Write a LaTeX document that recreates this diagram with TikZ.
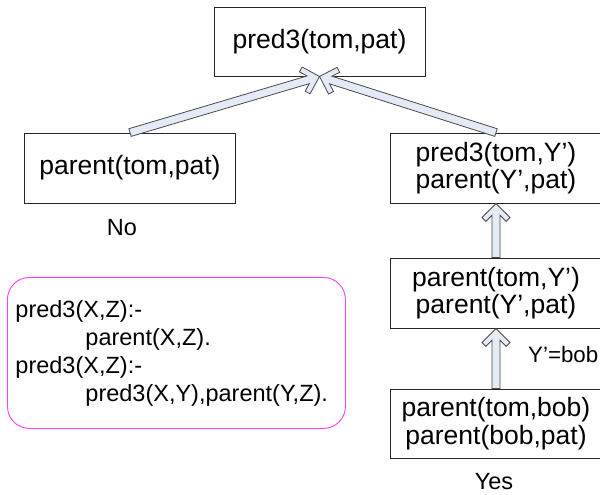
\documentclass[tikz,border=0pt]{standalone}
\usepackage{fontspec}
\setmainfont{Liberation Sans}
\usetikzlibrary{calc}

\definecolor{arrowfill}{HTML}{E4EAF6}
\definecolor{arrowline}{HTML}{4A4A4A}
\definecolor{rulepink}{HTML}{FF3CFF}

\tikzset{
  goal/.style={draw=black!85, line width=0.9pt, inner sep=0pt, align=center,
    minimum width=211pt, minimum height=70pt,
    font=\fontsize{26.5}{27.5}\selectfont},
  note/.style={inner sep=0pt, font=\fontsize{23.5}{28}\selectfont},
  rulebox/.style={draw=rulepink, line width=0.9pt, rounded corners=22pt,
    minimum width=338pt, minimum height=151pt, text width=322pt,
    inner xsep=8pt, inner ysep=0pt, align=left,
    font=\fontsize{23.5}{28}\selectfont},
  % hollow block arrow with an open chevron head, pointing at the target
  hollow/.style={draw=arrowline, fill=arrowfill, line width=0.8pt, line join=miter,
    to path={let \p1=($(\tikztostart)-(\tikztotarget)$),
                 \n1={atan2(\y1,\x1)}, \n2={veclen(\x1,\y1)} in
      ([shift={(\tikztotarget)},rotate=\n1]0pt,0pt)
      -- ([shift={(\tikztotarget)},rotate=\n1]14pt,14pt)
      -- ([shift={(\tikztotarget)},rotate=\n1]17.9pt,10.1pt)
      -- ([shift={(\tikztotarget)},rotate=\n1]11.8pt,4pt)
      -- ([shift={(\tikztotarget)},rotate=\n1]\n2,4pt)
      -- ([shift={(\tikztotarget)},rotate=\n1]\n2,-4pt)
      -- ([shift={(\tikztotarget)},rotate=\n1]11.8pt,-4pt)
      -- ([shift={(\tikztotarget)},rotate=\n1]17.9pt,-10.1pt)
      -- ([shift={(\tikztotarget)},rotate=\n1]14pt,-14pt)
      -- cycle}}
}

\begin{document}
\begin{tikzpicture}[x=1pt, y=-1pt]
  \useasboundingbox (0,0) rectangle (600,495);

  % goals of the resolution tree
  \node[goal, minimum height=69pt] (top) at (319.5,41.5) {pred3(tom,pat)};
  \node[goal] (left) at (130,168) {parent(tom,pat)};
  \node[goal] (r1) at (496,168) {pred3(tom,Y’)\\parent(Y’,pat)};
  \node[goal] (r2) at (496,293) {parent(tom,Y’)\\parent(Y’,pat)};
  \node[goal, minimum height=69pt] (r3) at (496,423.5) {parent(tom,bob)\\parent(bob,pat)};

  % outcome labels
  \node[note] (no) at (122,228) {No};
  \node[note] (yes) at (494,482) {Yes};
  \node[note, anchor=base west, font=\fontsize{22.3}{26}\selectfont]
    (bind) at (528,362) {Y’=bob};

  % program clauses
  \node[rulebox, anchor=north west] (rules) at (7,277)
    {pred3(X,Z):-\\
     \hspace*{70pt}parent(X,Z).\\
     pred3(X,Z):-\\
     \hspace*{70pt}pred3(X,Y),parent(Y,Z).};

  % connectors
  \draw[hollow] (left.north) to (top.south);
  \draw[hollow] (r1.north) to (top.south);
  \draw[hollow] (r2.north) to (r1.south);
  \draw[hollow] (r3.north) to (r2.south);
\end{tikzpicture}
\end{document}
